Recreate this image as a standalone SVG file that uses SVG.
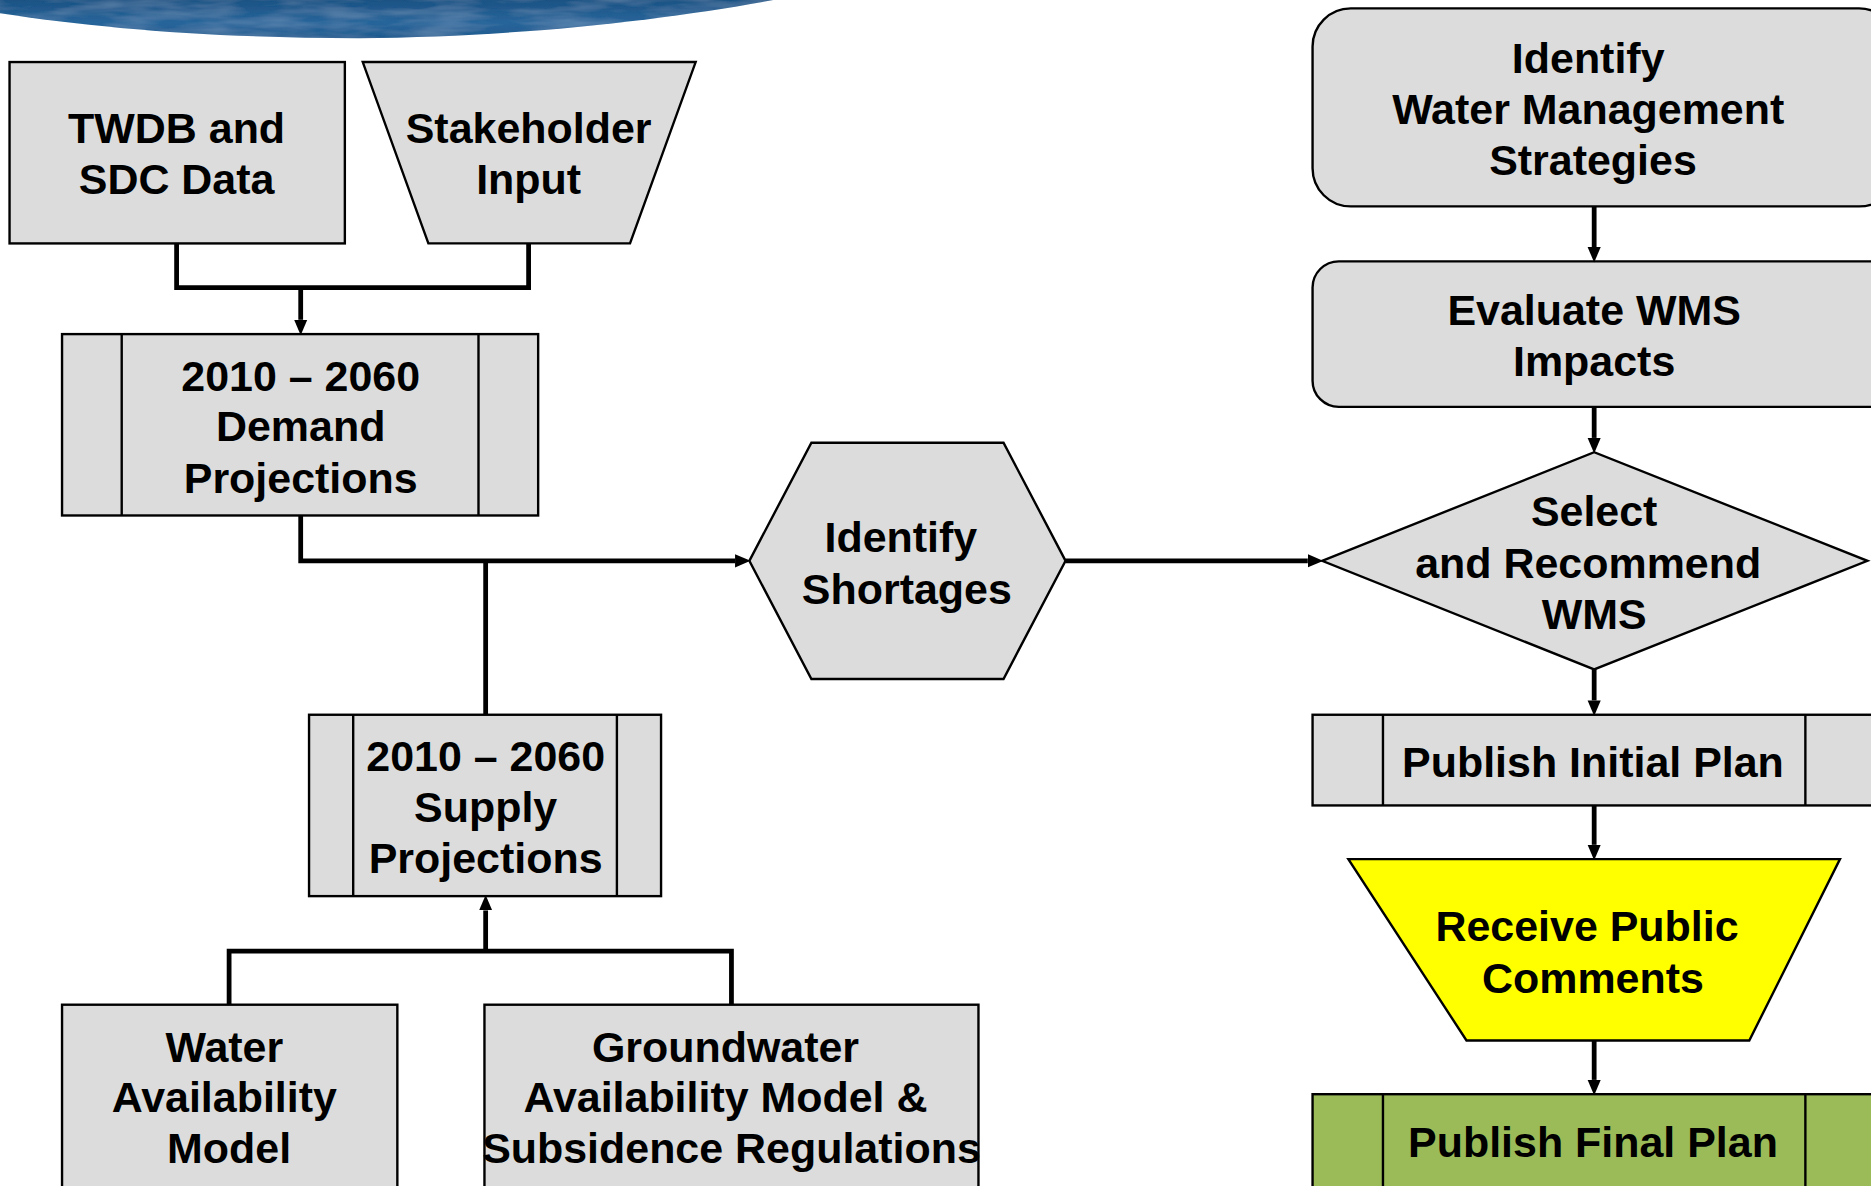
<svg xmlns="http://www.w3.org/2000/svg" width="1871" height="1186" viewBox="0 0 1871 1186">
<defs>
<linearGradient id="sea" x1="0" y1="0" x2="0" y2="1">
<stop offset="0" stop-color="#1c5284"/>
<stop offset="0.6" stop-color="#28659a"/>
<stop offset="1" stop-color="#215a8e"/>
</linearGradient>
<filter id="ripple" x="0" y="0" width="1" height="1">
<feTurbulence type="fractalNoise" baseFrequency="0.02 0.12" numOctaves="3" seed="4" result="n"/>
<feColorMatrix in="n" type="matrix" values="0 0 0 0 0.30  0 0 0 0 0.50  0 0 0 0 0.70  0 0 0 0.45 -0.15" result="lt"/>
<feComposite in="lt" in2="SourceGraphic" operator="in" result="tex"/>
<feMerge><feMergeNode in="SourceGraphic"/><feMergeNode in="tex"/></feMerge>
</filter>
<marker id="arr" markerUnits="userSpaceOnUse" markerWidth="13" markerHeight="12" refX="0" refY="6" orient="auto">
<path d="M0,0.5 L13,6 L0,11.5 Z" fill="#000"/>
</marker>
<style>
.box{fill:#dcdcdc;stroke:#000;stroke-width:2}
.yel{fill:#ffff00;stroke:#000;stroke-width:2}
.grn{fill:#9bbb59;stroke:#000;stroke-width:2}
.div{stroke:#000;stroke-width:2;fill:none}
.con{fill:none;stroke:#000;stroke-width:4}
.arrow{marker-end:url(#arr)}
text{font-family:"Liberation Sans",Arial,sans-serif;font-weight:bold;font-size:36px;fill:#000;text-anchor:middle}
</style>
</defs>
<rect width="1871" height="1186" fill="#fff"/>
<g transform="scale(1.19324)">
<g id="wave">
<path d="M0,0 H648 C560,16 440,31 300,32 C185,32 85,24 0,11 Z" fill="url(#sea)" filter="url(#ripple)"/>
</g>
<g id="twdb">
<rect class="box" x="8" y="52" width="281" height="152"/>
<text x="148" y="120">TWDB and</text>
<text x="148" y="163">SDC Data</text>
</g>
<g id="stakeholder">
<polygon class="box" points="304,52 583,52 528,204 359,204"/>
<text x="443" y="120">Stakeholder</text>
<text x="443" y="163">Input</text>
</g>
<g id="demand">
<rect class="box" x="52" y="280" width="399" height="152"/>
<path class="div" d="M102,280 V432 M401,280 V432"/>
<text x="252" y="328">2010 – 2060</text>
<text x="252" y="370">Demand</text>
<text x="252" y="413">Projections</text>
</g>
<g id="shortages">
<polygon class="box" points="628,470 680,371 841,371 893,470 841,569 680,569"/>
<text x="755" y="463">Identify</text>
<text x="760" y="506">Shortages</text>
</g>
<g id="supply">
<rect class="box" x="259" y="599" width="295" height="152"/>
<path class="div" d="M296,599 V751 M517,599 V751"/>
<text x="407" y="646">2010 – 2060</text>
<text x="407" y="689">Supply</text>
<text x="407" y="732">Projections</text>
</g>
<g id="wam">
<rect class="box" x="52" y="842" width="281" height="170"/>
<text x="188" y="890">Water</text>
<text x="188" y="932">Availability</text>
<text x="192" y="975">Model</text>
</g>
<g id="gam">
<rect class="box" x="406" y="842" width="414" height="170"/>
<text x="608" y="890">Groundwater</text>
<text x="608" y="932">Availability Model &amp;</text>
<text x="613" y="975">Subsidence Regulations</text>
</g>
<g id="identify-wms">
<rect class="box" x="1100" y="7" width="490" height="166" rx="32" ry="32"/>
<text x="1331" y="61">Identify</text>
<text x="1331" y="104">Water Management</text>
<text x="1335" y="147">Strategies</text>
</g>
<g id="evaluate">
<rect class="box" x="1100" y="219" width="490" height="122" rx="22" ry="22"/>
<text x="1336" y="272">Evaluate WMS</text>
<text x="1336" y="315">Impacts</text>
</g>
<g id="select">
<polygon class="box" points="1108,470 1336,379 1565,470 1336,561"/>
<text x="1336" y="441">Select</text>
<text x="1331" y="484">and Recommend</text>
<text x="1336" y="527">WMS</text>
</g>
<g id="publish-initial">
<rect class="box" x="1100" y="599" width="490" height="76"/>
<path class="div" d="M1159,599 V675 M1513,599 V675"/>
<text x="1335" y="651">Publish Initial Plan</text>
</g>
<g id="public-comments">
<polygon class="yel" points="1130,720 1542,720 1466,872 1229,872"/>
<text x="1330" y="789">Receive Public</text>
<text x="1335" y="832">Comments</text>
</g>
<g id="publish-final">
<rect class="grn" x="1100" y="917" width="490" height="95"/>
<path class="div" d="M1159,917 V1012 M1513,917 V1012"/>
<text x="1335" y="970">Publish Final Plan</text>
</g>
<g id="connectors">
<path class="con" d="M148,204 V241 H443 V204"/>
<path class="con arrow" d="M252,241 V268"/>
<path class="con arrow" d="M252,432 V470 H616"/>
<path class="con" d="M407,470 V599"/>
<path class="con arrow" d="M893,470 H1096"/>
<path class="con arrow" d="M1336,173 V207"/>
<path class="con arrow" d="M1336,341 V367"/>
<path class="con arrow" d="M1336,561 V587"/>
<path class="con arrow" d="M1336,675 V708"/>
<path class="con arrow" d="M1336,872 V905"/>
<path class="con" d="M192,842 V797 H613 V842"/>
<path class="con arrow" d="M407,797 V763"/>
</g>
</g>
</svg>
